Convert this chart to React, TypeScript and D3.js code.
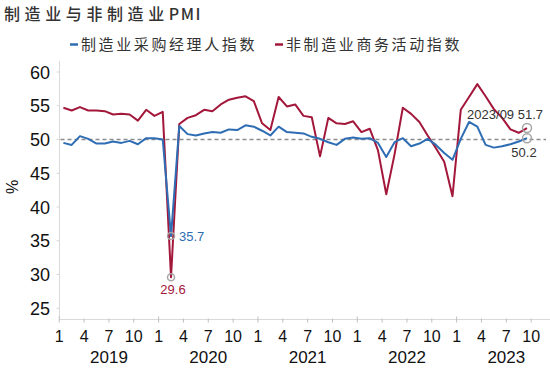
import React from "react";
import * as d3 from "d3";

const months: string[] = [];
for (let y = 2019; y <= 2023; y++) for (let m = 1; m <= 12; m++) if (!(y === 2023 && m > 9)) months.push(`${y}/${String(m).padStart(2, "0")}`);

const mfgPMI = [
  49.5, 49.2, 50.5, 50.1, 49.4, 49.4, 49.7, 49.5, 49.8, 49.3, 50.2, 50.2,
  50.0, 35.7, 52.0, 50.8, 50.6, 50.9, 51.1, 51.0, 51.5, 51.4, 52.1, 51.9,
  51.3, 50.6, 51.9, 51.1, 51.0, 50.9, 50.4, 50.1, 49.6, 49.2, 50.1, 50.3,
  50.1, 50.2, 49.5, 47.4, 49.6, 50.2, 49.0, 49.4, 50.1, 49.2, 48.0, 47.0,
  50.1, 52.6, 51.9, 49.2, 48.8, 49.0, 49.3, 49.7, 50.2,
];
const nonMfgPMI = [
  54.7, 54.3, 54.8, 54.3, 54.3, 54.2, 53.7, 53.8, 53.7, 52.8, 54.4, 53.5,
  54.1, 29.6, 52.3, 53.2, 53.6, 54.4, 54.2, 55.2, 55.9, 56.2, 56.4, 55.7,
  52.4, 51.4, 56.3, 54.9, 55.2, 53.5, 53.3, 47.5, 53.2, 52.4, 52.3, 52.7,
  51.1, 51.6, 48.4, 41.9, 47.8, 54.7, 53.8, 52.6, 50.6, 48.7, 46.7, 41.6,
  54.4, 56.3, 58.2, 56.4, 54.5, 53.2, 51.5, 51.0, 51.7,
];
const yTicks = [25, 30, 35, 40, 45, 50, 55, 60];
const monthTickLabels = ["1", "4", "7", "10"];
const years = ["2019", "2020", "2021", "2022", "2023"];

const BLUE = "#2e6db4";
const RED = "#a3173a";
const FONT = "'Liberation Sans', Arial, sans-serif";
const CJK = "'Noto Sans CJK SC', sans-serif";

export default function App() {
  const W = 550, H = 368;
  const x = d3.scaleLinear().domain([0, 56]).range([63.4, 527]);
  const y = d3.scaleLinear().domain([25, 60]).range([308.3, 72]);
  const axisY = 319.5;
  const axisX = 59.5;

  const line = d3.line<number>().x((_, i) => x(i)).y((d) => y(d));

  const tickIdx: { i: number; label: string; year: boolean }[] = [];
  for (let yi = 0; yi < 5; yi++) {
    for (let q = 0; q < 4; q++) {
      const i = yi * 12 + q * 3;
      if (i > 57) continue;
      tickIdx.push({ i, label: monthTickLabels[q], year: q === 0 });
    }
  }

  const feb20 = months.indexOf("2020/02");
  const last = months.length - 1;

  return (
    <svg width={W} height={H} style={{ display: "block", position: "absolute", left: 0, top: 0 }}>
      <rect width={W} height={H} fill="#fff" />
      <text x={4} y={20} fontFamily={CJK} fontSize={16} fill="#333" fontWeight={500}>
        <tspan letterSpacing={4.6}>制造业与非制造业</tspan>
        <tspan letterSpacing={1.5}>PMI</tspan>
      </text>
      {/* legend */}
      <line x1={70} x2={78} y1={44.5} y2={44.5} stroke={BLUE} strokeWidth={2.5} />
      <text x={81} y={50} fontFamily={CJK} fontSize={15} fill="#333" letterSpacing={2.6}>
        制造业采购经理人指数
      </text>
      <line x1={275} x2={283} y1={44.5} y2={44.5} stroke={RED} strokeWidth={2.5} />
      <text x={286} y={50} fontFamily={CJK} fontSize={15} fill="#333" letterSpacing={2.6}>
        非制造业商务活动指数
      </text>

      {/* y axis */}
      <line x1={axisX} x2={axisX} y1={61} y2={axisY} stroke="#d9d9d9" strokeWidth={1} />
      {yTicks.map((t) => (
        <g key={t}>
          <line x1={axisX - 3} x2={axisX} y1={y(t)} y2={y(t)} stroke="#d9d9d9" />
          <text x={50} y={y(t) + 6.5} textAnchor="end" fontFamily={FONT} fontSize={18} fill="#111">
            {t}
          </text>
        </g>
      ))}
      <text transform={`translate(18,${187}) rotate(-90)`} textAnchor="middle" fontFamily={FONT} fontSize={16} fill="#111">
        %
      </text>

      {/* x axis */}
      <line x1={axisX} x2={550} y1={axisY} y2={axisY} stroke="#d9d9d9" strokeWidth={1} />
      {tickIdx.map(({ i, label, year }) => {
        const px = x(i - 0.5);
        return (
          <g key={i}>
            <line x1={px} x2={px} y1={year ? axisY - 3 : axisY - 1} y2={axisY + 3} stroke="#bfbfbf" />
            <text x={px} y={341.5} textAnchor="middle" fontFamily={FONT} fontSize={16} fill="#111">
              {label}
            </text>
          </g>
        );
      })}
      {years.map((yr, k) => (
        <text key={yr} x={(x(k * 12 - 0.5) + x(k * 12 + 11.5)) / 2} y={363} textAnchor="middle" fontFamily={FONT} fontSize={17} fill="#111">
          {yr}
        </text>
      ))}

      {/* reference line 50 */}
      <line x1={axisX + 1} x2={546} y1={y(50)} y2={y(50)} stroke="#8c8c8c" strokeWidth={1.3} strokeDasharray="4,3" />

      <path d={line(nonMfgPMI) || ""} fill="none" stroke={RED} strokeWidth={2} strokeLinejoin="round" />
      <path d={line(mfgPMI) || ""} fill="none" stroke={BLUE} strokeWidth={2} strokeLinejoin="round" />

      {/* annotations */}
      {[
        [feb20, mfgPMI[feb20]],
        [feb20, nonMfgPMI[feb20]],
        [last, mfgPMI[last]],
        [last, nonMfgPMI[last]],
      ].map(([i, v], k) => (
        <circle key={k} cx={x(i)} cy={y(v)} r={k >= 2 ? 4.5 : 3.5} fill="none" stroke="#a6a6a6" strokeWidth={1.5} />
      ))}
      <text x={x(feb20) + 8} y={y(mfgPMI[feb20]) + 5} fontFamily={FONT} fontSize={13} fill={BLUE}>
        {mfgPMI[feb20].toFixed(1)}
      </text>
      <text x={x(feb20) + 2} y={y(nonMfgPMI[feb20]) + 17} textAnchor="middle" fontFamily={FONT} fontSize={13} fill={RED}>
        {nonMfgPMI[feb20].toFixed(1)}
      </text>
      <text x={543} y={119} textAnchor="end" fontFamily={FONT} fontSize={13} fill="#333">
        {`${months[last]} ${nonMfgPMI[last].toFixed(1)}`}
      </text>
      <text x={x(last) - 3} y={157} textAnchor="middle" fontFamily={FONT} fontSize={13} fill="#333">
        {mfgPMI[last].toFixed(1)}
      </text>
    </svg>
  );
}
